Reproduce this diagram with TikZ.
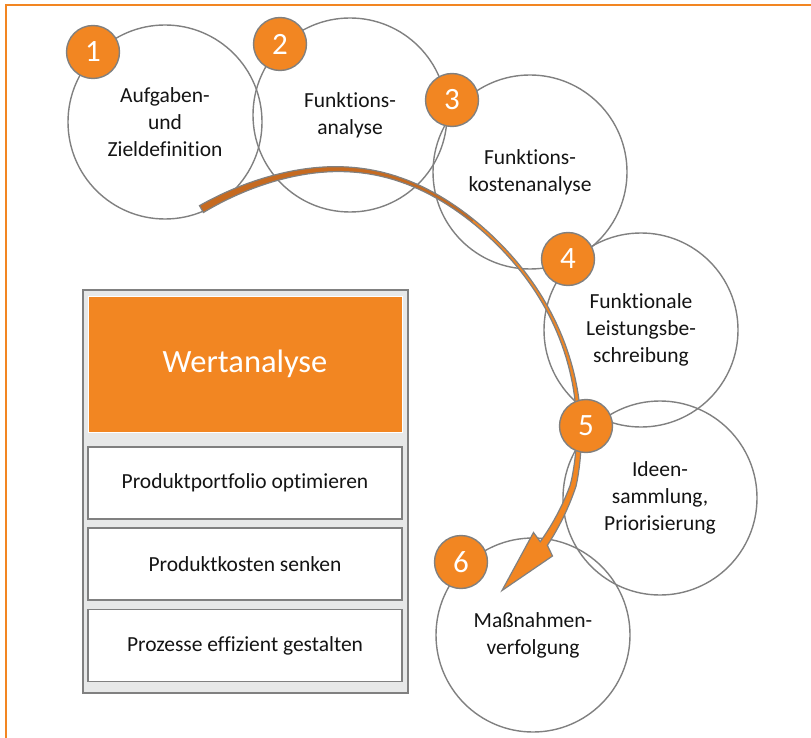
\documentclass[tikz,border=0pt]{standalone}
\usepackage{fontspec}
\setmainfont{Carlito}[Ligatures={NoCommon}]
\definecolor{orng}{RGB}{242,134,34}
\definecolor{orngdark}{RGB}{198,106,32}
\definecolor{cgray}{RGB}{128,128,128}
\definecolor{boxgray}{RGB}{231,232,232}
\definecolor{txt}{RGB}{20,20,20}
\begin{document}
\begin{tikzpicture}[x=1pt,y=-1pt,
  bigc/.style={circle, draw=cgray, line width=1.4pt, minimum size=194pt, inner sep=0pt,
    align=center, text=txt, font=\fontsize{21.5}{27}\selectfont},
  badge/.style={circle, fill=orng, draw=cgray, line width=1.4pt, minimum size=53pt,
    inner sep=0pt, text=white, font=\fontsize{31}{31}\selectfont},
  itembox/.style={rectangle, draw=cgray, line width=1.4pt, fill=white, minimum width=314pt,
    minimum height=72pt, inner sep=0pt, text=txt, font=\fontsize{21.5}{27}\selectfont},
  declare function={
    rr(\t)=254+10*exp(-((\t-280)/25)*((\t-280)/25))-ifthenelse(\t>372,(\t-372)*0.56,0);
    ww(\t)=3+5*((\t-325)/ifthenelse(\t<325,85,62))*((\t-325)/ifthenelse(\t<325,85,62));
  }]
\useasboundingbox (0,0) rectangle (811,738);
\fill[white] (0,0) rectangle (811,738);
% frame
\draw[orng, line width=2pt] (5.5,738) -- (5.5,5) -- (811,5);

% big circles
\node[bigc] (c1) at (165,122) {Aufgaben-\\und\\Zieldefinition};
\node[bigc] (c2) at (350,115) {Funktions-\\analyse};
\node[bigc] (c3) at (530,172) {Funktions-\\kostenanalyse};
\node[bigc] (c4) at (641,330) {Funktionale\\Leistungsbe-\\schreibung};
\node[bigc] (c5) at (660,498) {Ideen-\\sammlung,\\Priorisierung};
\node[bigc] (c6) at (533,635) {Maßnahmen-\\verfolgung};

% curved arrow
\coordinate (hr) at (552.5,556);
\coordinate (htip) at (502,590.5);
\coordinate (hl) at (533.5,532.5);
\path[save path=\arrowshape]
  plot[domain=241:387, samples=100, variable=\t]
    ({325+(rr(\t)+ww(\t)/2)*cos(\t)},{432+(rr(\t)+ww(\t)/2)*sin(\t)})
  -- (hr) -- (htip) -- (hl)
  -- plot[domain=387:241, samples=100, variable=\t]
    ({325+(rr(\t)-ww(\t)/2)*cos(\t)},{432+(rr(\t)-ww(\t)/2)*sin(\t)})
  -- cycle;
\fill[orng, use path=\arrowshape];
\fill[orngdark]
  plot[domain=241:305, samples=50, variable=\t]
    ({325+(rr(\t)+ww(\t)/2)*cos(\t)},{432+(rr(\t)+ww(\t)/2)*sin(\t)})
  -- plot[domain=305:241, samples=50, variable=\t]
    ({325+(rr(\t)-ww(\t)/2)*cos(\t)},{432+(rr(\t)-ww(\t)/2)*sin(\t)})
  -- cycle;
\draw[cgray, line width=1.2pt, line join=miter, use path=\arrowshape];

% badges
\node[badge] (b1) at (93,52) {1};
\node[badge] (b2) at (280,44) {2};
\node[badge] (b3) at (452,100) {3};
\node[badge] (b4) at (568,259) {4};
\node[badge] (b5) at (586,426) {5};
\node[badge] (b6) at (461,562) {6};

% Wertanalyse box
\node[rectangle, draw=cgray, line width=2pt, fill=boxgray, minimum width=325pt,
  minimum height=403pt, inner sep=0pt] (wa) at (245.5,491.5) {};
\node[rectangle, draw=white, line width=1pt, fill=orng, minimum width=314pt,
  minimum height=136pt, inner sep=0pt, text=white, font=\fontsize{32.5}{36}\selectfont]
  (head) at (245,364) {Wertanalyse};
\node[itembox] (i1) at (245,483) {Produktportfolio optimieren};
\node[itembox] (i2) at (245,564) {Produktkosten senken};
\node[itembox] (i3) at (245,645.5) {Prozesse effizient gestalten};
\end{tikzpicture}
\end{document}
